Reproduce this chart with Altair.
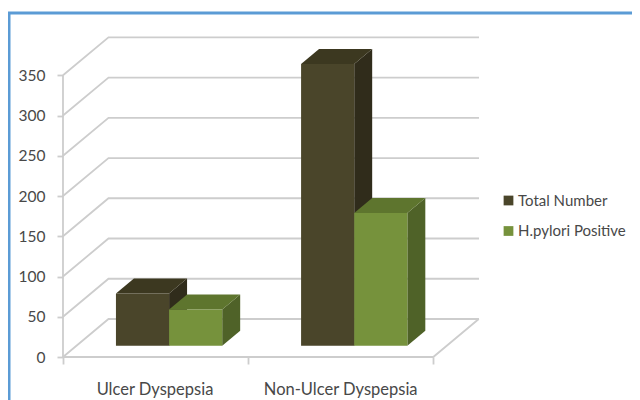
import altair as alt
import pandas as pd

categories = ["Ulcer Dyspepsia", "Non-Ulcer Dyspepsia"]
series = ["Total Number", "H.pylori Positive"]
total_number = [65, 350]
hp_positive = [45, 165]
y_ticks = [0, 50, 100, 150, 200, 250, 300, 350]
x_ticks = [0, 1, 2]

FONT = "Lato"
FRONT = {"Total Number": "#4A452A", "H.pylori Positive": "#76923C"}
TOP = {"Total Number": "#3C3820", "H.pylori Positive": "#5E752E"}
SIDE = {"Total Number": "#302C1B", "H.pylori Positive": "#4F6228"}
GRID = "#CDCDCD"
TEXT = "#484848"

W, H = 416, 321
X_MAX, Y_MAX = 2.247, 398.8
WALL_DX, WALL_DY = 0.2457, 47.2
BAR_W, BAR_START = 0.287, 0.286
BASE, DX, DY = 14.0, 0.097, 18.6

xs = alt.Scale(domain=[0, X_MAX], nice=False, zero=False)
ys = alt.Scale(domain=[0, Y_MAX], nice=False, zero=False)
x_axis = alt.Axis(values=x_ticks, labels=False, domain=False, grid=False, ticks=True,
                  tickSize=7, tickColor=GRID, tickWidth=1.8)
y_axis = alt.Axis(values=y_ticks, domain=False, grid=False, tickSize=6, tickColor=GRID, tickWidth=1.8,
                  labelFont=FONT, labelFontSize=15.5, labelColor=TEXT, labelPadding=12)
X = lambda f="x:Q": alt.X(f, scale=xs, axis=x_axis, title=None)
Y = lambda f="y:Q": alt.Y(f, scale=ys, axis=y_axis, title=None, stack=None)

rows_front = []
polys = []
for s_i, (name, vals) in enumerate(zip(series, [total_number, hp_positive])):
    for c_i, v in enumerate(vals):
        x0 = c_i + BAR_START + s_i * BAR_W
        x1 = x0 + BAR_W
        top = BASE + v
        rows_front.append(dict(x=x0, x2=x1, y=BASE, y2=top, s=name))
        side = pd.DataFrame([
            dict(x=x1, y=BASE, y2=top),
            dict(x=x1 + DX, y=BASE + DY, y2=top + DY),
        ])
        cap = pd.DataFrame([
            dict(x=x0, y=top, y2=top),
            dict(x=x0 + DX, y=top, y2=top + DY),
            dict(x=x1, y=top, y2=top + DY),
            dict(x=x1 + DX, y=top + DY, y2=top + DY),
        ])
        polys.append(alt.Chart(side).mark_area(color=SIDE[name], interpolate="linear").encode(x=X(), y=Y(), y2="y2:Q"))
        polys.append(alt.Chart(cap).mark_area(color=TOP[name], interpolate="linear").encode(x=X(), y=Y(), y2="y2:Q"))

grid_rows = []
for v in y_ticks:
    grid_rows += [dict(x=0, y=v, k=v), dict(x=WALL_DX, y=v + WALL_DY, k=v), dict(x=X_MAX, y=v + WALL_DY, k=v)]
grid = alt.Chart(pd.DataFrame(grid_rows)).mark_line(color=GRID, strokeWidth=1.8).encode(x=X(), y=Y(), detail="k:N")

floor = alt.Chart(pd.DataFrame([
    dict(x=0, y=0), dict(x=2, y=0), dict(x=2 + WALL_DX, y=WALL_DY)
])).mark_line(color=GRID, strokeWidth=1.8).encode(x=X(), y=Y())

y_axis_line = alt.Chart(pd.DataFrame([dict(x=0, y=0, y2=max(y_ticks))])).mark_rule(color=GRID, strokeWidth=1.8).encode(
    x=X(), y=Y(), y2="y2:Q",
)

front = alt.Chart(pd.DataFrame(rows_front)).mark_rect().encode(
    x=X(), x2="x2:Q", y=Y(), y2="y2:Q",
    color=alt.Color("s:N", title=None,
                    scale=alt.Scale(domain=series, range=[FRONT[s] for s in series]),
                    legend=alt.Legend(orient="none", legendX=438, legendY=157, symbolType="square",
                                      symbolSize=95, rowPadding=14.5, labelFont=FONT, labelFontSize=15,
                                      labelColor=TEXT, labelOffset=2, symbolStrokeWidth=0, labelLimit=200)),
)

cat_df = pd.DataFrame({"x": [0.497, 1.5], "label": categories})
cat_labels = alt.Chart(cat_df).mark_text(font=FONT, fontSize=16.5, color=TEXT, baseline="alphabetic").encode(
    x=X(), y=alt.value(359), text="label:N"
)

border_top = alt.Chart(pd.DataFrame({"a": [0]})).mark_rule(color="#5B9BD5", strokeWidth=3).encode(
    x=alt.value(-55), x2=alt.value(577), y=alt.value(-23))
border_left = alt.Chart(pd.DataFrame({"a": [0]})).mark_rule(color="#5B9BD5", strokeWidth=3).encode(
    x=alt.value(-54), y=alt.value(-23), y2=alt.value(364))

chart = alt.layer(
    border_top, border_left, y_axis_line, grid, floor, *polys, front, cat_labels
).properties(
    width=W, height=H,
    autosize=alt.AutoSizeParams(type="none"),
    padding={"left": 55, "top": 28, "right": 624 - 55 - W, "bottom": 392 - 28 - H},
    background="white",
).configure_view(stroke=None)

chart.save("out.html", embed_options={"renderer": "svg", "actions": False})
